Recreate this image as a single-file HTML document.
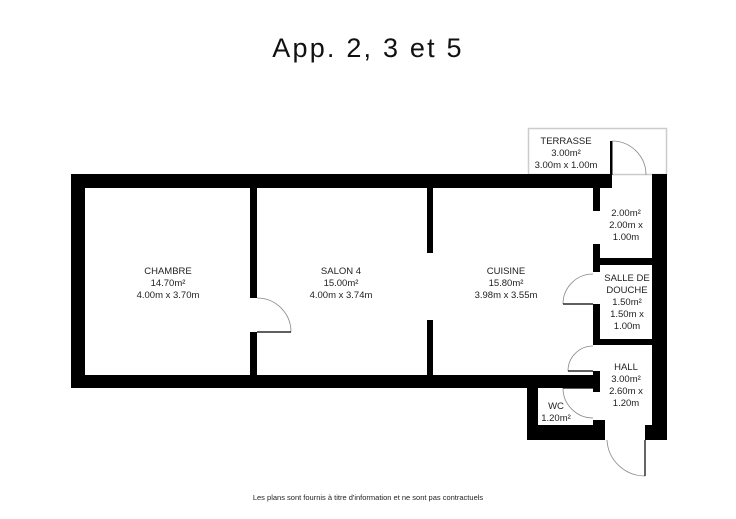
<!DOCTYPE html>
<html><head><meta charset="utf-8"><style>
html,body{margin:0;padding:0;background:#fff;}
svg{display:block;}
text{font-family:"Liberation Sans",sans-serif;fill:#222;}
</style></head><body>
<svg width="736" height="519" viewBox="0 0 736 519" xmlns="http://www.w3.org/2000/svg">
<text x="368" y="57" font-size="27" letter-spacing="2.2" text-anchor="middle" style="fill:#111">App. 2, 3 et 5</text>
<!-- terrace outline -->
<rect x="528.5" y="128.5" width="138" height="46" fill="none" stroke="#ccc" stroke-width="1.5"/>
<g fill="#000">
<rect x="71" y="174" width="541" height="14"/>
<rect x="71" y="174" width="14" height="214"/>
<rect x="71" y="375" width="529" height="13"/>
<rect x="652" y="174" width="15" height="266"/>
<rect x="250" y="188" width="7" height="110"/>
<rect x="250" y="332" width="7" height="43"/>
<rect x="427" y="188" width="6" height="65"/>
<rect x="427" y="320" width="6" height="55"/>
<rect x="593" y="188" width="7" height="23"/>
<rect x="593" y="244" width="7" height="28"/>
<rect x="593" y="258" width="60" height="7"/>
<rect x="593" y="304" width="7" height="41"/>
<rect x="593" y="339" width="60" height="6"/>
<rect x="593" y="371" width="7" height="21"/>
<rect x="527" y="375" width="11" height="65"/>
<rect x="527" y="425" width="78" height="15"/>
<rect x="593" y="420" width="12" height="20"/>
<rect x="645" y="425" width="22" height="15"/>
<rect x="610" y="141" width="2.5" height="34"/>
</g>
<g fill="none" stroke="#888" stroke-width="0.8">
<path d="M612 141 A34 34 0 0 1 646 175"/>
<path d="M257 298 A34 34 0 0 1 291 332"/>
<path d="M563 304 A30 30 0 0 1 593 274"/>
<path d="M568 371 A25 25 0 0 1 593 346"/>
<path d="M563 388 A30 30 0 0 0 593 418"/>
<path d="M607 440 A38 38 0 0 0 645 476"/>
</g>
<g stroke="#000" stroke-width="1.2">
<line x1="257" y1="332" x2="291" y2="332"/>
<line x1="563" y1="304" x2="593" y2="304"/>
<line x1="568" y1="371" x2="593" y2="371"/>
<line x1="563" y1="388" x2="593" y2="388"/>
<line x1="645" y1="440" x2="645" y2="476"/>
</g>
<g font-size="9.5" text-anchor="middle">
<text x="168" y="274">CHAMBRE</text><text x="168" y="286">14.70m²</text><text x="168" y="298">4.00m x 3.70m</text>
<text x="341" y="274">SALON 4</text><text x="341" y="286">15.00m²</text><text x="341" y="298">4.00m x 3.74m</text>
<text x="506" y="274">CUISINE</text><text x="506" y="286">15.80m²</text><text x="506" y="298">3.98m x 3.55m</text>
<text x="566" y="144">TERRASSE</text><text x="566" y="156">3.00m²</text><text x="566" y="168">3.00m x 1.00m</text>
<text x="626" y="216">2.00m²</text><text x="626" y="228">2.00m x</text><text x="626" y="240">1.00m</text>
<text x="627" y="281">SALLE DE</text><text x="627" y="293">DOUCHE</text><text x="627" y="305">1.50m²</text><text x="627" y="317">1.50m x</text><text x="627" y="329">1.00m</text>
<text x="626" y="370">HALL</text><text x="626" y="382">3.00m²</text><text x="626" y="394">2.60m x</text><text x="626" y="406">1.20m</text>
<text x="556" y="409">WC</text><text x="556" y="421">1.20m²</text>
</g>
<text x="368" y="500" font-size="7.5" text-anchor="middle">Les plans sont fournis à titre d'information et ne sont pas contractuels</text>
</svg>
</body></html>
